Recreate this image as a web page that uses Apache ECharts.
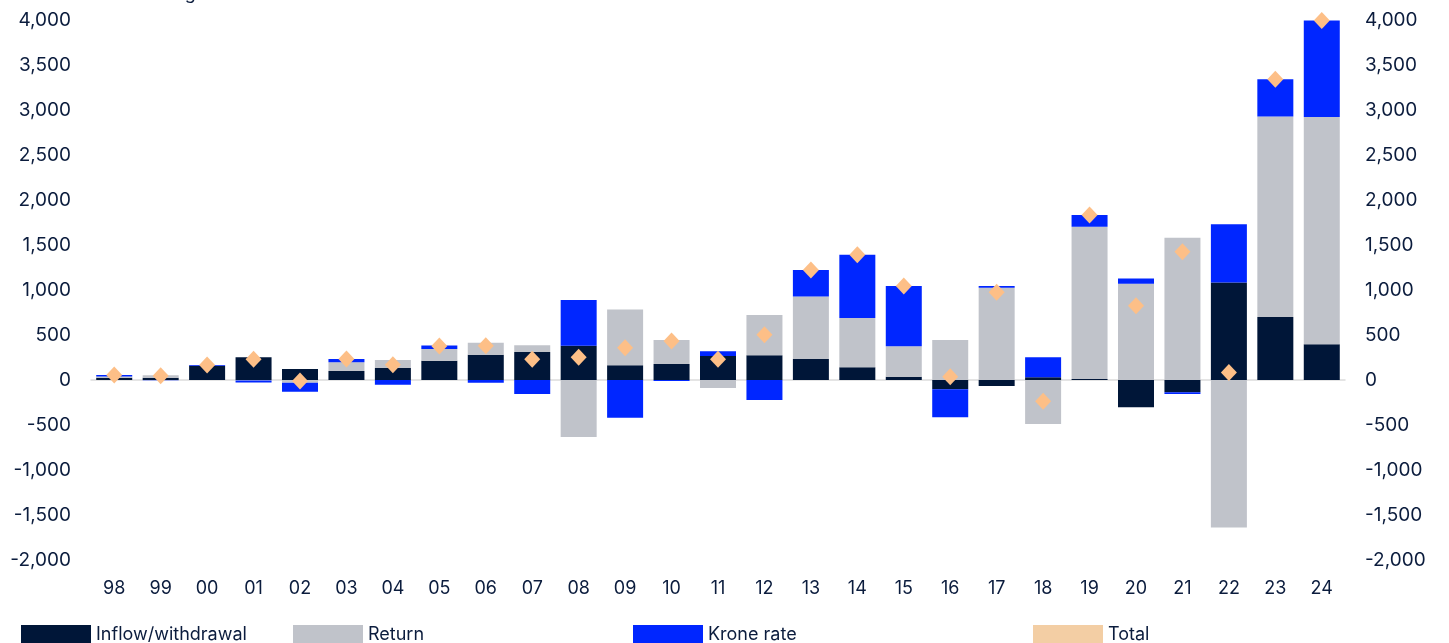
<!DOCTYPE html>
<html>
<head>
<meta charset="utf-8">
<script src="https://cdn.jsdelivr.net/npm/echarts@6/dist/echarts.min.js"></script>
<style>
  html, body { margin: 0; padding: 0; background: #fff; }
  #chart { width: 1449px; height: 643px; }
</style>
</head>
<body>
<div id="chart"></div>
<script>
// years
const years = ['98', '99', '00', '01', '02', '03', '04', '05', '06', '07', '08', '09', '10', '11', '12', '13', '14', '15', '16', '17', '18', '19', '20', '21', '22', '23', '24']
// billions of kroner
const inflow = [25, 24, 159, 252, 122, 100, 133, 215, 281, 311, 381, 163, 178, 268, 274, 233, 141, 37, -104, -67, 30, 11, -304, -137, 1083, 699, 397]
const returns = [15, 28, 0, -5, -30, 97, 88, 130, 133, 74, -633, 619, 267, -88, 448, 696, 548, 337, 444, 1026, -489, 1693, 1070, 1581, -1639, 2230, 2524]
const krone = [15, -3, 7, -22, -100, 37, -52, 37, -30, -156, 507, -419, -12, 52, -222, 293, 704, 670, -311, 18, 222, 130, 59, -19, 647, 412, 1074]
const total = [55, 48, 166, 230, -11, 233, 170, 378, 381, 230, 252, 359, 433, 230, 504, 1222, 1392, 1044, 37, 974, -237, 1833, 826, 1426, 83, 3341, 3995]

const textColor = '#0b1c3d'
const font = 'Inter'

const chart = echarts.init(document.getElementById('chart'))

// y axis used on both sides
function valueAxis (position, align) {
  return {
    type: 'value',
    position: position,
    min: -2000,
    max: 4000,
    interval: 500,
    splitLine: { show: false },
    axisLine: { show: false },
    axisTick: { show: false },
    axisLabel: {
      margin: 20,
      align: align,
      color: textColor,
      fontFamily: font,
      fontSize: 19,
      formatter: v => v.toLocaleString('en-US')
    }
  }
}

function legendAt (left, item) {
  return {
    left: left,
    top: 625,
    padding: 0,
    itemWidth: 70,
    itemHeight: 20,
    selectedMode: false,
    textStyle: { color: textColor, fontFamily: font, fontSize: 18 },
    data: [item]
  }
}

chart.setOption({
  animation: false,
  graphic: [{
    type: 'text',
    left: 28,
    top: -15,
    style: { text: 'Market value change. Billions of kroner', fill: textColor, font: '18px Inter' }
  }],
  grid: { left: 91, right: 104, top: 20, bottom: 83 },
  legend: [
    legendAt(21, { name: 'Inflow/withdrawal', icon: 'rect' }),
    legendAt(293, { name: 'Return', icon: 'rect' }),
    legendAt(633, { name: 'Krone rate', icon: 'rect' }),
    legendAt(1033, { name: 'Total', icon: 'rect', itemStyle: { color: '#f3cea4' } })
  ],
  xAxis: {
    type: 'category',
    data: years,
    axisTick: { show: false },
    axisLine: { lineStyle: { color: '#dcdcdc', width: 1.5 } },
    axisLabel: {
      margin: 20,
      color: textColor,
      fontFamily: font,
      fontSize: 18,
      interval: 0
    }
  },
  yAxis: [valueAxis('left', 'right'), valueAxis('right', 'left')],
  series: [
    {
      name: 'Inflow/withdrawal',
      type: 'bar',
      stack: 'a',
      barWidth: 36,
      data: inflow,
      itemStyle: { color: '#001638' }
    },
    {
      name: 'Return',
      type: 'bar',
      stack: 'a',
      barWidth: 36,
      data: returns,
      itemStyle: { color: '#c0c3ca' }
    },
    {
      name: 'Krone rate',
      type: 'bar',
      stack: 'a',
      barWidth: 36,
      data: krone,
      itemStyle: { color: '#0026ff' }
    },
    {
      name: 'Total',
      type: 'scatter',
      symbol: 'diamond',
      symbolSize: [16, 17],
      z: 5,
      data: total,
      itemStyle: { color: '#fdbf87', opacity: 1 }
    }
  ]
})
</script>
</body>
</html>
